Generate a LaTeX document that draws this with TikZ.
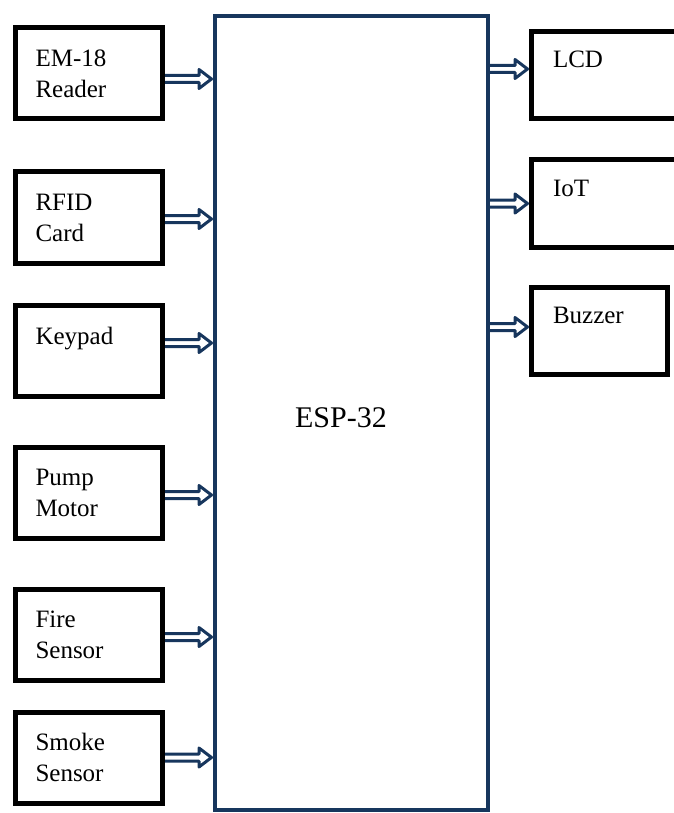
\documentclass[tikz,border=0pt]{standalone}
\usepackage{fontspec}
\setmainfont{Liberation Serif}
\usetikzlibrary{calc}
\definecolor{espblue}{RGB}{23,54,93}
\tikzset{
  blk/.style={draw=black, line width=5pt, minimum width=147pt, minimum height=91pt,
    text width=107pt, inner xsep=20pt, align=left, font=\fontsize{25}{31}\selectfont},
  rblk/.style={blk, minimum width=160pt, minimum height=87pt, text width=117pt, inner xsep=21.5pt},
  bus/.style={draw=espblue, line width=3pt, line join=round, fill=white,
    to path={let \p1=(\tikztostart), \p2=(\tikztotarget) in
      (\x1,\y1+3.5pt) -- (\x2-14pt,\y1+3.5pt) -- (\x2-14pt,\y1+9.5pt) -- (\x2-1.5pt,\y1)
      -- (\x2-14pt,\y1-9.5pt) -- (\x2-14pt,\y1-3.5pt) -- (\x1,\y1-3.5pt) \tikztonodes}},
}
\begin{document}
\begin{tikzpicture}[x=1pt, y=-1pt, line join=miter]
  \useasboundingbox (0,0) rectangle (673,813);
  % controller
  \node[draw=espblue, line width=4pt, minimum width=273pt, minimum height=794pt] (esp) at (351.5,413) {};
  \node[font=\fontsize{30}{36}\selectfont] (esplabel) at (341,418) {ESP-32};
  % inputs
  \node[blk] (em) at (89,73.5) {EM-18\\Reader};
  \node[blk] (rfid) at (89,217.5) {RFID\\Card};
  \node[blk] (key) at (89,351) {Keypad\\\mbox{}};
  \node[blk] (pump) at (89,493) {Pump\\Motor};
  \node[blk] (fire) at (89,635) {Fire\\Sensor};
  \node[blk] (smoke) at (89,757.5) {Smoke\\Sensor};
  % outputs
  \node[rblk] (lcd) at (611.5,75) {LCD\\\mbox{}};
  \node[rblk] (iot) at (611.5,203.5) {IoT\\\mbox{}};
  \node[rblk, minimum width=136pt, text width=93pt] (buzz) at (599.5,330.5) {Buzzer\\\mbox{}};
  % links
  \draw[bus] ([yshift=-5.5pt]em.east) to ([yshift=-5.5pt]esp.west |- em.east);
  \draw[bus] ([yshift=-1.5pt]rfid.east) to ([yshift=-1.5pt]esp.west |- rfid.east);
  \draw[bus] ([yshift=8pt]key.east) to ([yshift=8pt]esp.west |- key.east);
  \draw[bus] ([yshift=-2pt]pump.east) to ([yshift=-2pt]esp.west |- pump.east);
  \draw[bus] ([yshift=-2pt]fire.east) to ([yshift=-2pt]esp.west |- fire.east);
  \draw[bus] (smoke.east) to (esp.west |- smoke.east);
  \draw[bus] ([yshift=6pt]esp.east |- lcd.west) to ([yshift=6pt]lcd.west);
  \draw[bus] (esp.east |- iot.west) to (iot.west);
  \draw[bus] ([yshift=3.5pt]esp.east |- buzz.west) to ([yshift=3.5pt]buzz.west);
\end{tikzpicture}
\end{document}
